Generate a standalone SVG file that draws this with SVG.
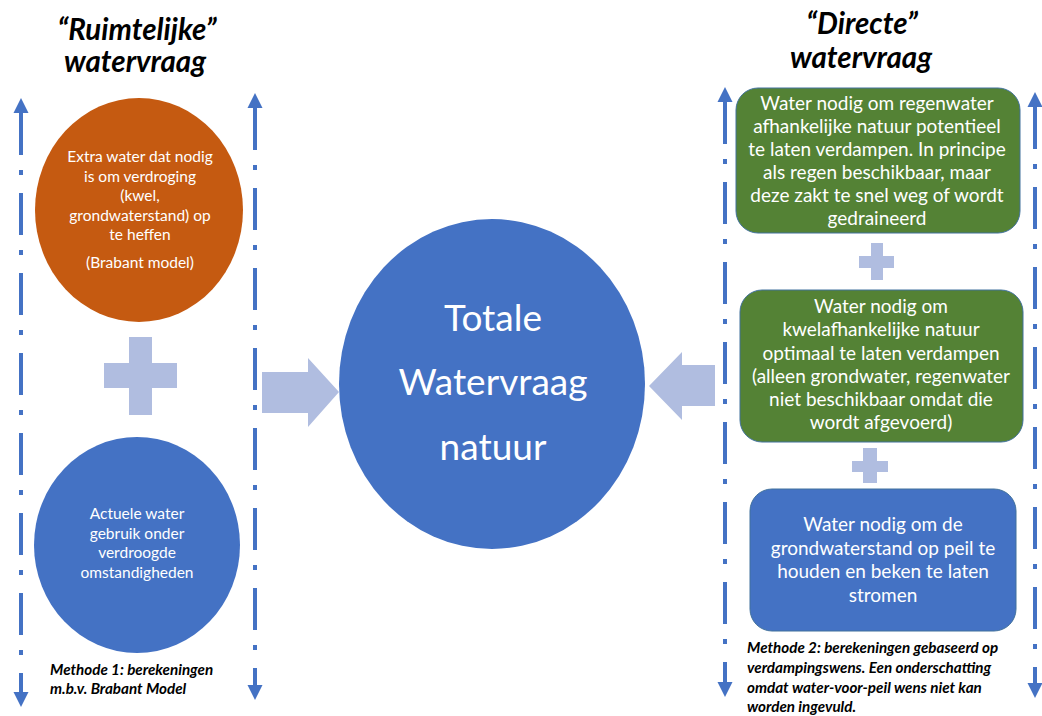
<svg xmlns="http://www.w3.org/2000/svg" width="1042" height="716" viewBox="0 0 1042 716">
<style>
.t{font-family:Lato,"Open Sans","DejaVu Sans",sans-serif;fill:#fff;text-anchor:middle}
.ttl{font-family:Lato,"Open Sans","DejaVu Sans",sans-serif;font-weight:bold;font-style:italic;font-size:29.5px;fill:#000;text-anchor:middle}
.m{font-family:Lato,"Open Sans","DejaVu Sans",sans-serif;font-weight:bold;font-style:italic;font-size:15.2px;fill:#000}
.dd{stroke:#4472C4;stroke-width:4;stroke-dasharray:42 15 5 18;fill:none;marker-start:url(#ah);marker-end:url(#ah)}
.pl{fill:#B0BDE0}
.box{stroke:#41719C;stroke-width:1}
</style>
<defs>
<marker id="ah" markerUnits="userSpaceOnUse" markerWidth="16" markerHeight="16" refX="0" refY="7.5" orient="auto-start-reverse" viewBox="0 0 16 15">
<path d="M0,0 L15,7.5 L0,15 Z" fill="#4472C4"/>
</marker>
</defs>
<rect width="1042" height="716" fill="#fff"/>
<g id="connectors">
<line class="dd" x1="21" y1="113" x2="21" y2="692"/>
<line class="dd" x1="255" y1="108" x2="255" y2="685"/>
<line class="dd" x1="725" y1="102" x2="725" y2="682"/>
<line class="dd" x1="1035" y1="107" x2="1035" y2="683"/>
<polygon class="pl" points="262,372 308,372 308,358 339,392 308,427 308,413 262,413"/>
<polygon class="pl" points="715,365 682,365 682,352 649,386 682,420 682,406 715,406"/>
</g>
<g id="title-left">
<text class="ttl" x="137" y="40">“Ruimtelijke”</text>
<text class="ttl" x="135" y="72">watervraag</text>
</g>
<g id="title-right">
<text class="ttl" x="862" y="34">“Directe”</text>
<text class="ttl" x="861" y="68">watervraag</text>
</g>
<g id="node-extra">
<ellipse cx="139" cy="210" rx="104" ry="112" fill="#C55A11"/>
<text class="t" font-size="15.5" x="140" y="162">Extra water dat nodig</text>
<text class="t" font-size="15.5" x="140" y="181.5">is om verdroging</text>
<text class="t" font-size="15.5" x="140" y="201">(kwel,</text>
<text class="t" font-size="15.5" x="140" y="220.5">grondwaterstand) op</text>
<text class="t" font-size="15.5" x="140" y="240">te heffen</text>
<text class="t" font-size="15.5" x="140" y="268">(Brabant model)</text>
</g>
<g id="plus-left"><path class="pl" d="M129,337 H152 V363 H177 V388 H152 V415 H129 V388 H104 V363 H129 Z"/></g>
<g id="node-actueel">
<ellipse cx="137" cy="545" rx="103" ry="108" fill="#4472C4"/>
<text class="t" font-size="15.5" x="137" y="519">Actuele water</text>
<text class="t" font-size="15.5" x="137" y="539">gebruik onder</text>
<text class="t" font-size="15.5" x="137" y="558">verdroogde</text>
<text class="t" font-size="15.5" x="137" y="578">omstandigheden</text>
</g>
<g id="methode1">
<text class="m" x="50" y="675">Methode 1: berekeningen</text>
<text class="m" x="50" y="694">m.b.v. Brabant Model</text>
</g>
<g id="node-totaal">
<ellipse cx="492" cy="384" rx="153" ry="165" fill="#4472C4"/>
<text class="t" font-size="37" x="493" y="331">Totale</text>
<text class="t" font-size="37" x="493" y="395">Watervraag</text>
<text class="t" font-size="37" x="493" y="460">natuur</text>
</g>
<g id="node-regen">
<rect class="box" x="736" y="88" width="284" height="145" rx="22" fill="#548235"/>
<text class="t" font-size="19" x="877" y="110">Water nodig om regenwater</text>
<text class="t" font-size="19" x="877" y="133">afhankelijke natuur potentieel</text>
<text class="t" font-size="19" x="877" y="156">te laten verdampen. In principe</text>
<text class="t" font-size="19" x="877" y="179">als regen beschikbaar, maar</text>
<text class="t" font-size="19" x="877" y="202">deze zakt te snel weg of wordt</text>
<text class="t" font-size="19" x="877" y="225">gedraineerd</text>
</g>
<g id="plus-r1"><path class="pl" d="M871,243 H883 V256 H894 V268 H883 V280 H871 V268 H859 V256 H871 Z"/></g>
<g id="node-kwel">
<rect class="box" x="740" y="290" width="283" height="152" rx="22" fill="#548235"/>
<text class="t" font-size="19" x="881" y="313">Water nodig om</text>
<text class="t" font-size="19" x="881" y="336">kwelafhankelijke natuur</text>
<text class="t" font-size="19" x="881" y="359.5">optimaal te laten verdampen</text>
<text class="t" font-size="19" x="881" y="383">(alleen grondwater, regenwater</text>
<text class="t" font-size="19" x="881" y="406">niet beschikbaar omdat die</text>
<text class="t" font-size="19" x="881" y="429">wordt afgevoerd)</text>
</g>
<g id="plus-r2"><path class="pl" d="M863,448 H877 V461 H888 V472 H877 V483 H863 V472 H852 V461 H863 Z"/></g>
<g id="node-peil">
<rect class="box" x="750" y="489" width="266" height="142" rx="22" fill="#4472C4"/>
<text class="t" font-size="19" x="883" y="531">Water nodig om de</text>
<text class="t" font-size="19" x="883" y="554.5">grondwaterstand op peil te</text>
<text class="t" font-size="19" x="883" y="578">houden en beken te laten</text>
<text class="t" font-size="19" x="883" y="601.5">stromen</text>
</g>
<g id="methode2">
<text class="m" x="747" y="653">Methode 2: berekeningen gebaseerd op</text>
<text class="m" x="747" y="673">verdampingswens. Een onderschatting</text>
<text class="m" x="747" y="693">omdat water-voor-peil wens niet kan</text>
<text class="m" x="747" y="712">worden ingevuld.</text>
</g>
</svg>
